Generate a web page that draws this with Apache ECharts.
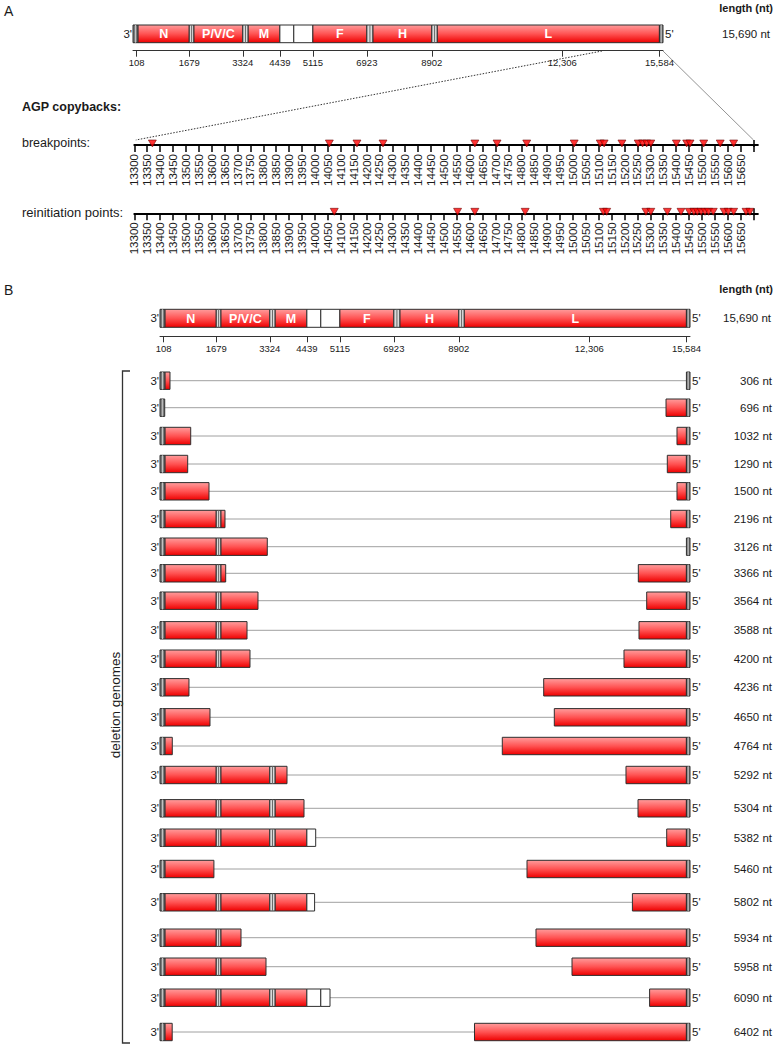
<!DOCTYPE html>
<html><head><meta charset="utf-8">
<script src="https://cdn.jsdelivr.net/npm/echarts@6/dist/echarts.min.js"></script>
<style>html,body{margin:0;padding:0;background:#fff}#c{width:776px;height:1047px}</style>
</head><body><div id="c"></div>
<script>
// ---------------- data (map positions read from the schematic) ----------------
const genomeLength = 15690;
const geneNames  = ['', 'N', '', 'P/V/C', '', 'M', '', '', 'F', '', 'H', '', 'L', ''];
const geneKinds  = ['cap','gene','jn','gene','jn','gene','white','white','gene','jn','gene','jn','gene','cap'];
const geneStarts = [0, 150, 1665, 1805, 3250, 3410, 4348, 4760, 5325, 6923, 7105, 8846, 9008, 15584];
const geneEnds   = [150, 1665, 1805, 3250, 3410, 4348, 4760, 5325, 6923, 7105, 8846, 9008, 15584, 15690];
const mapTickLabels = ['108','1679','3324','4439','5115','6923','8902','12,306','15,584'];
const mapTickPos    = [110, 1665, 3250, 4348, 5325, 6923, 8846, 12709, 15584];
const delLengths    = [306,696,1032,1290,1500,2196,3126,3366,3564,3588,4200,4236,4650,4764,5292,5304,5382,5460,5802,5934,5958,6090,6402];
const delLeftEnd    = [296,140,909,820,1451,1924,3176,1945,2901,2576,2664,858,1480,364,3760,4263,4609,1596,4577,2398,3138,5033,361];
const delRightStart = [15584,14980,15305,15018,15305,15119,15584,14160,14408,14180,13736,11359,11673,10133,13795,14151,15000,10865,13985,11131,12197,14494,9310];
const breakpoints  = [13370,14056,14163,14264,14620,14706,14821,15005,15106,15121,15190,15253,15270,15286,15302,15401,15441,15454,15507,15571,15623];
const reinitiation = [14075,14553,14620,14815,15118,15131,15283,15302,15366,15419,15451,15469,15482,15497,15512,15526,15544,15586,15602,15623,15671,15686];
const bpAxisMin = 13300, bpAxisStep = 50, bpAxisLastTick = 15700, bpAxisLastLabel = 15650;
const zoomStartMap = 13884;

// ---------------- layout ----------------
const FF = "'Liberation Sans', Arial, Helvetica, sans-serif";
const TXT = '#1a1a1a';
const rowCenters = [380.7,407.7,436,464,491.3,519,546.7,573.3,600.7,630.3,658.7,687.3,717.3,746,775,808.3,837.7,869,902.3,937.7,966.7,997.7,1032];
const rowH = 17.4;

const grid = [], xAxis = [], yAxis = [], series = [];

function redFill() {
  return new echarts.graphic.LinearGradient(0, 0, 0, 1, [
    {offset: 0, color: '#ff9c9c'}, {offset: 0.5, color: '#ff5353'}, {offset: 1, color: '#ee0000'}
  ]);
}
function makeRender(showNames) {
  return function (params, api) {
    const s = api.value(0), e = api.value(1), k = api.value(2), g = api.value(3);
    const p0 = api.coord([s, 0]), p1 = api.coord([e, 0]);
    const h = api.size([0, 1])[1];
    if (k === 0) {
      return {type: 'line', shape: {x1: p0[0], y1: p0[1], x2: p1[0], y2: p1[1]},
              style: {stroke: '#a0a0a0', lineWidth: 1}};
    }
    const y = p0[1] - h / 2, w = p1[0] - p0[0];
    let fill = '#ffffff';
    if (k === 2) fill = redFill(); else if (k === 1) fill = '#7a7a7a'; else if (k === 3) fill = '#dadada';
    const ch = [{type: 'rect', shape: {x: p0[0], y: y, width: w, height: h},
                 style: {fill: fill, stroke: '#2e2e2e', lineWidth: 1}}];
    if (k === 1 || k === 3) {
      ch.push({type: 'line', shape: {x1: p0[0] + w / 2, y1: y, x2: p0[0] + w / 2, y2: y + h},
               style: {stroke: k === 3 ? '#6a6a6a' : '#c4c4c4', lineWidth: 1}});
    }
    if (showNames && geneNames[g]) {
      ch.push({type: 'text', style: {text: geneNames[g], x: (p0[0] + p1[0]) / 2, y: p0[1] + 0.5,
               align: 'center', verticalAlign: 'middle', fill: '#ffffff',
               fontSize: 12.5, fontWeight: 'bold', fontFamily: FF}});
    }
    return {type: 'group', children: ch};
  };
}
const kindCode = {cap: 1, gene: 2, jn: 3, white: 4};

function addMapRow(opts) {
  const gi = grid.length;
  grid.push({left: opts.left, top: opts.top, width: 530, height: opts.height, containLabel: false});
  const xa = {gridIndex: gi, type: 'value', min: 0, max: genomeLength, splitLine: {show: false}};
  if (opts.axis) {
    Object.assign(xa, {
      position: 'bottom', offset: opts.axisOffset,
      axisLine: {show: true, lineStyle: {color: '#333', width: 1}},
      axisTick: {show: true, length: 6, customValues: mapTickPos, lineStyle: {color: '#333', width: 1}},
      axisLabel: {show: true, customValues: mapTickPos, margin: 7, fontSize: 9.5, color: TXT, fontFamily: FF,
                  formatter: v => mapTickLabels[mapTickPos.indexOf(v)]}
    });
  } else {
    xa.show = false;
  }
  xAxis.push(xa);
  const yi = yAxis.length;
  const base = {gridIndex: gi, type: 'category', data: ['r'], axisLine: {show: false}, axisTick: {show: false}, splitLine: {show: false}};
  yAxis.push(Object.assign({}, base, {position: 'left',
    axisLabel: {formatter: () => "3'", margin: 1, fontSize: 11.5, color: TXT, fontFamily: FF}}));
  yAxis.push(Object.assign({}, base, {position: 'right',
    axisLabel: {formatter: () => "5'", margin: 2, fontSize: 11.5, color: TXT, fontFamily: FF}}));
  yAxis.push(Object.assign({}, base, {position: 'right', offset: opts.lenOffset,
    axisLabel: {formatter: () => opts.lenText, margin: 0, align: 'right', fontSize: 11.5, color: TXT, fontFamily: FF}}));
  series.push({type: 'custom', xAxisIndex: gi, yAxisIndex: yi, renderItem: makeRender(opts.names),
               encode: {x: [0, 1], y: 4}, data: opts.data, silent: true});
  return gi;
}

function fullGenomeData() {
  return geneStarts.map((s, i) => [s, geneEnds[i], kindCode[geneKinds[i]], i, 0]);
}
function deletionData(leftEnd, rightStart) {
  const d = [[leftEnd, rightStart, 0, -1, 0]];
  geneStarts.forEach((s, i) => {
    const e = geneEnds[i];
    if (s < leftEnd) d.push([s, Math.min(e, leftEnd), kindCode[geneKinds[i]], i, 0]);
  });
  geneStarts.forEach((s, i) => {
    const e = geneEnds[i];
    if (e > rightStart) d.push([Math.max(s, rightStart), e, kindCode[geneKinds[i]], i, 0]);
  });
  return d;
}

// Panel A full genome
addMapRow({left: 133, top: 25, height: 17.7, axis: true, axisOffset: 8, names: true,
           lenOffset: 107, lenText: genomeLength.toLocaleString('en-US') + ' nt', data: fullGenomeData()});
// Panel B full genome
addMapRow({left: 160, top: 309.3, height: 18, axis: true, axisOffset: 9, names: true,
           lenOffset: 81, lenText: genomeLength.toLocaleString('en-US') + ' nt', data: fullGenomeData()});
// deletion genomes
delLengths.forEach((len, i) => {
  addMapRow({left: 160, top: rowCenters[i] - rowH / 2, height: rowH, axis: false, names: false,
             lenOffset: 82, lenText: len + ' nt', data: deletionData(delLeftEnd[i], delRightStart[i])});
});

// breakpoint / reinitiation axes
const bpTicks = [], bpLabels = [];
for (let v = bpAxisMin; v <= bpAxisLastTick; v += bpAxisStep) { bpTicks.push(v); if (v <= bpAxisLastLabel) bpLabels.push(v); }
function addPointAxis(lineY, values) {
  const gi = grid.length;
  grid.push({left: 134.3, top: lineY - 5, width: 623.6, height: 7});
  xAxis.push({gridIndex: gi, type: 'value', min: bpAxisMin, max: 15717, offset: -2, splitLine: {show: false},
    axisLine: {show: true, lineStyle: {color: '#000', width: 2}},
    axisTick: {show: true, length: 7, customValues: bpTicks, lineStyle: {color: '#000', width: 1.5}},
    axisLabel: {show: true, customValues: bpLabels, rotate: 90, margin: 9, fontSize: 11.5, color: TXT, fontFamily: FF,
                formatter: v => String(v)}});
  const yi = yAxis.length;
  yAxis.push({gridIndex: gi, type: 'category', data: ['t'], show: false});
  series.push({type: 'scatter', xAxisIndex: gi, yAxisIndex: yi, symbol: 'triangle', symbolRotate: 180,
    symbolSize: [8, 7], z: 5, silent: true, clip: false,
    itemStyle: {color: '#ff0000', borderColor: '#600', borderWidth: 0.7},
    data: values.map(v => [v, 0]),
    markLine: {silent: true, symbol: 'none', label: {show: false}, lineStyle: {color: '#000', width: 1.5, type: 'solid'},
               data: [{xAxis: bpAxisLastTick}]}});
  return gi;
}
const bpIdx = addPointAxis(145, breakpoints);
const riIdx = addPointAxis(213.3, reinitiation);

const chart = echarts.init(document.getElementById('c'), null, {renderer: 'svg'});
chart.setOption({animation: false, backgroundColor: '#fff', grid, xAxis, yAxis, series});

// connector lines from the map axis to the zoomed axis
const xTop = chart.convertToPixel({xAxisIndex: 0}, zoomStartMap);
const xTopR = chart.convertToPixel({xAxisIndex: 0}, genomeLength);
const xBL = chart.convertToPixel({xAxisIndex: bpIdx}, bpAxisMin);
const xBR = chart.convertToPixel({xAxisIndex: bpIdx}, bpAxisLastTick);
function txt(x, y, text, size, extra) {
  return Object.assign({type: 'text', x: x, y: y, silent: true,
    style: Object.assign({text: text, fill: TXT, fontSize: size, fontFamily: FF, align: 'left', verticalAlign: 'middle'}, extra || {})});
}
chart.setOption({graphic: {elements: [
  {type: 'line', silent: true, shape: {x1: xTop, y1: 51, x2: xBL + 1.5, y2: 140}, style: {stroke: '#333', lineWidth: 1, lineDash: [1.5, 1.5]}},
  {type: 'line', silent: true, shape: {x1: xTopR, y1: 51, x2: xBR, y2: 140}, style: {stroke: '#777', lineWidth: 0.8}},
  txt(4, 11, 'A', 14),
  txt(4, 290, 'B', 14),
  txt(773, 8, 'length (nt)', 11, {align: 'right', fontWeight: 'bold'}),
  txt(773, 289, 'length (nt)', 11, {align: 'right', fontWeight: 'bold'}),
  txt(22, 107, 'AGP copybacks:', 12.5, {fontWeight: 'bold'}),
  txt(22, 143, 'breakpoints:', 12.5),
  txt(22, 212, 'reinitiation points:', 13),
  {type: 'text', x: 115, y: 705, rotation: Math.PI / 2, silent: true,
   style: {text: 'deletion genomes', fill: TXT, fontSize: 13.5, fontFamily: FF, align: 'center', verticalAlign: 'middle'}},
  {type: 'polyline', silent: true, shape: {points: [[130, 371], [122.5, 371], [122.5, 1043], [130, 1043]]},
   style: {stroke: '#333', lineWidth: 1.3, fill: null}}
]}});
</script></body></html>
